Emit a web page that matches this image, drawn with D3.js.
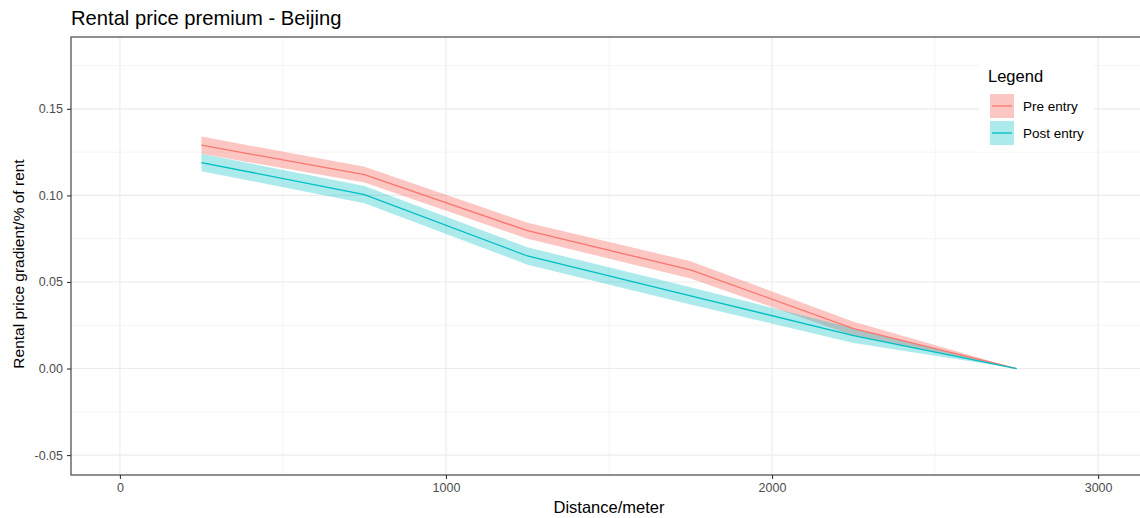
<!DOCTYPE html>
<html>
<head>
<meta charset="utf-8">
<script src="https://cdn.jsdelivr.net/npm/d3@7"></script>
<style>
  body { margin: 0; background: #fff; }
  text { font-family: "Liberation Sans", Arial, Helvetica, sans-serif; }
</style>
</head>
<body>
<script>
// distance bands (metres) and estimated gradients
var distances = [250, 750, 1250, 1750, 2250, 2750];
var preMean   = [0.129, 0.112, 0.0796, 0.057, 0.023, 0];
var preLower  = [0.124, 0.1075, 0.075, 0.052, 0.019, 0];
var preUpper  = [0.134, 0.1165, 0.0842, 0.062, 0.027, 0];
var postMean  = [0.119, 0.1005, 0.065, 0.042, 0.019, 0];
var postLower = [0.114, 0.0955, 0.060, 0.037, 0.0148, 0];
var postUpper = [0.124, 0.1055, 0.070, 0.047, 0.0232, 0];

var xTicks = [0, 1000, 2000, 3000];
var xMinor = [500, 1500, 2500];
var yTicks = [-0.05, 0, 0.05, 0.10, 0.15];
var yMinor = [-0.025, 0.025, 0.075, 0.125, 0.175];

var seriesNames = ["Pre entry", "Post entry"];
var colors = ["#F8766D", "#00BFC4"];

var series = [
  distances.map(function(d, i) { return {x: d, y: preMean[i], lo: preLower[i], hi: preUpper[i]}; }),
  distances.map(function(d, i) { return {x: d, y: postMean[i], lo: postLower[i], hi: postUpper[i]}; })
];

var width = 1140, height = 518;
var margin = {top: 37, right: -7, bottom: 43, left: 71};
var w = width - margin.left - margin.right,
    h = height - margin.top - margin.bottom;

var svg = d3.select("body").append("svg")
  .attr("width", width)
  .attr("height", height);

var x = d3.scaleLinear().domain([-150, 3150]).range([0, w]);
var y = d3.scaleLinear().domain([-0.0615, 0.1915]).range([h, 0]);

var g = svg.append("g")
  .attr("transform", "translate(" + margin.left + "," + margin.top + ")");

// grid
g.selectAll(".xminor").data(xMinor).enter().append("line")
  .attr("x1", x).attr("x2", x).attr("y1", 0).attr("y2", h)
  .attr("stroke", "#EBEBEB").attr("stroke-width", 0.55);
g.selectAll(".yminor").data(yMinor).enter().append("line")
  .attr("y1", y).attr("y2", y).attr("x1", 0).attr("x2", w)
  .attr("stroke", "#EBEBEB").attr("stroke-width", 0.55);
g.selectAll(".xmajor").data(xTicks).enter().append("line")
  .attr("x1", x).attr("x2", x).attr("y1", 0).attr("y2", h)
  .attr("stroke", "#EBEBEB").attr("stroke-width", 1.1);
g.selectAll(".ymajor").data(yTicks).enter().append("line")
  .attr("y1", y).attr("y2", y).attr("x1", 0).attr("x2", w)
  .attr("stroke", "#EBEBEB").attr("stroke-width", 1.1);

// ribbons
var area = d3.area()
  .x(function(d) { return x(d.x); })
  .y0(function(d) { return y(d.lo); })
  .y1(function(d) { return y(d.hi); });

g.selectAll(".ribbon").data(series).enter().append("path")
  .attr("d", area)
  .attr("fill", function(d, i) { return colors[i]; })
  .attr("fill-opacity", function(d, i) { return i == 0 ? 0.42 : 0.32; });

var line = d3.line()
  .x(function(d) { return x(d.x); })
  .y(function(d) { return y(d.y); });

g.selectAll(".line").data(series).enter().append("path")
  .attr("d", line)
  .attr("fill", "none")
  .attr("stroke", function(d, i) { return colors[i]; })
  .attr("stroke-width", 1.3);

// panel border
g.append("rect")
  .attr("width", w).attr("height", h)
  .attr("fill", "none")
  .attr("stroke", "#333333").attr("stroke-width", 1.1);

// axes (hyphen minus like R)
var yFmt = function(d) { return d3.format(".2f")(d).replace("\u2212", "-"); };

var xAxis = g.append("g")
  .attr("transform", "translate(0," + h + ")")
  .call(d3.axisBottom(x).tickValues(xTicks).tickSize(4).tickPadding(4).tickFormat(d3.format("d")));
var yAxis = g.append("g")
  .call(d3.axisLeft(y).tickValues(yTicks).tickSize(4).tickPadding(4).tickFormat(yFmt));

[xAxis, yAxis].forEach(function(a) {
  a.select(".domain").remove();
  a.selectAll(".tick line").attr("stroke", "#333333").attr("stroke-width", 1.1);
  a.selectAll(".tick text").attr("fill", "#4D4D4D").style("font-size", "12.5px");
});

// titles
svg.append("text")
  .attr("x", 71).attr("y", 25)
  .style("font-size", "20.2px")
  .attr("fill", "#000")
  .text("Rental price premium - Beijing");

svg.append("text")
  .attr("x", margin.left + (1147 - margin.left) / 2)
  .attr("y", 513)
  .style("text-anchor", "middle")
  .style("font-size", "16.5px")
  .text("Distance/meter");

svg.append("text")
  .attr("transform", "rotate(-90)")
  .attr("x", -(margin.top + h / 2 + 8))
  .attr("y", 24)
  .style("text-anchor", "middle")
  .style("font-size", "15.5px")
  .text("Rental price gradient/% of rent");

// legend
var leg = svg.append("g").attr("transform", "translate(979,62)");
leg.append("rect").attr("width", 115).attr("height", 90).attr("fill", "#fff");
leg.append("text").attr("x", 9).attr("y", 20).style("font-size", "16.5px").text("Legend");

var keys = leg.selectAll(".key").data(seriesNames).enter().append("g")
  .attr("transform", function(d, i) { return "translate(11," + (32 + i * 27) + ")"; });
keys.append("rect")
  .attr("width", 24).attr("height", 24)
  .attr("fill", function(d, i) { return colors[i]; })
  .attr("fill-opacity", function(d, i) { return i == 0 ? 0.42 : 0.32; });
keys.append("line")
  .attr("x1", 2).attr("x2", 22).attr("y1", 12).attr("y2", 12)
  .attr("stroke", function(d, i) { return colors[i]; })
  .attr("stroke-width", 1.3);
keys.append("text")
  .attr("x", 33).attr("y", 16.5)
  .style("font-size", "13.5px")
  .text(function(d) { return d; });
</script>
</body>
</html>
